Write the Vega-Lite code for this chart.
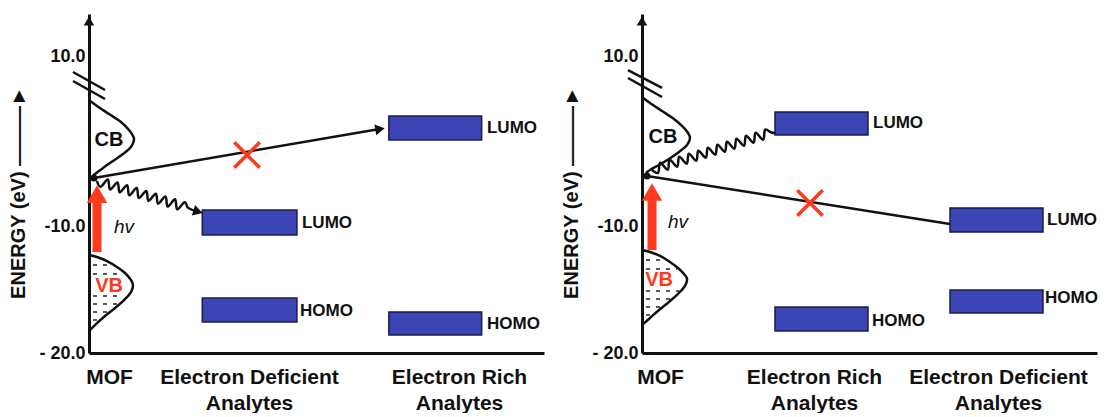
{
  "$schema": "https://vega.github.io/schema/vega-lite/v6.json",
  "padding": {"left": 8, "top": 14, "right": 0, "bottom": 0},
  "background": "white",
  "spacing": 17,
  "config": {
    "view": {"stroke": null},
    "font": "Liberation Sans",
    "axis": {"labelFont": "Liberation Sans", "labelFontWeight": "bold", "labelColor": "#111", "domainColor": "#111", "domainWidth": 3, "ticks": false, "tickSize": 0, "grid": false, "labelOverlap": false, "labelFlush": false, "titleFont": "Liberation Sans", "titleFontWeight": "bold", "titleColor": "#111"},
    "axisX": {"labelFontSize": 21, "labelPadding": 13, "labelLineHeight": 26, "labelAngle": 0},
    "axisY": {"labelFontSize": 18, "labelPadding": 4, "titleFontSize": 20, "titlePadding": 10, "titleY": 178}
  },
  "datasets": {
    "boxesL": [
      {"level": "LUMO", "analyte": "Electron Deficient", "x": 24.9, "x2": 45.7, "E": -8.12, "E2": -10.71},
      {"level": "LUMO", "analyte": "Electron Rich", "x": 65.9, "x2": 86.3, "E": 2.94, "E2": 0.12},
      {"level": "HOMO", "analyte": "Electron Deficient", "x": 24.9, "x2": 45.7, "E": -15.67, "E2": -17.56},
      {"level": "HOMO", "analyte": "Electron Rich", "x": 65.9, "x2": 86.3, "E": -16.77, "E2": -18.58}
    ],
    "boxesR": [
      {"level": "LUMO", "analyte": "Electron Rich", "x": 29.23, "x2": 49.67, "E": 3.41, "E2": 0.71},
      {"level": "LUMO", "analyte": "Electron Deficient", "x": 67.69, "x2": 88.13, "E": -7.88, "E2": -10.47},
      {"level": "HOMO", "analyte": "Electron Rich", "x": 29.23, "x2": 49.67, "E": -16.38, "E2": -18.27},
      {"level": "HOMO", "analyte": "Electron Deficient", "x": 67.69, "x2": 88.13, "E": -15.04, "E2": -16.85}
    ],
    "textsL": [
      {"id": "level", "t": "LUMO", "x": 46.81, "E": -9.65},
      {"id": "level", "t": "LUMO", "x": 87.47, "E": 1.53},
      {"id": "level", "t": "HOMO", "x": 46.37, "E": -16.69},
      {"id": "level", "t": "HOMO", "x": 87.47, "E": -17.72},
      {"id": "CB", "t": "CB", "x": 4.4, "E": 0.12},
      {"id": "VB", "t": "VB", "x": 4.4, "E": -14.72},
      {"id": "hv", "t": "hv", "x": 7.69, "E": -10.08}
    ],
    "textsR": [
      {"id": "level", "t": "LUMO", "x": 50.77, "E": 2.12},
      {"id": "level", "t": "LUMO", "x": 89.01, "E": -9.29},
      {"id": "level", "t": "HOMO", "x": 50.55, "E": -17.48},
      {"id": "level", "t": "HOMO", "x": 88.57, "E": -15.67},
      {"id": "CB", "t": "CB", "x": 4.62, "E": 0.47},
      {"id": "VB", "t": "VB", "x": 3.74, "E": -14.25},
      {"id": "hv", "t": "hv", "x": 7.91, "E": -9.53}
    ],
    "pathsL": [
      {"id": "CB", "o": 1, "x": 0, "E": 4.82}, {"id": "CB", "o": 2, "x": 1.76, "E": 4.12}, {"id": "CB", "o": 3, "x": 4.4, "E": 3.18}, {"id": "CB", "o": 4, "x": 7.03, "E": 2.24}, {"id": "CB", "o": 5, "x": 8.79, "E": 1.29}, {"id": "CB", "o": 6, "x": 9.67, "E": 0.59}, {"id": "CB", "o": 7, "x": 9.89, "E": 0.12}, {"id": "CB", "o": 8, "x": 9.23, "E": -0.71}, {"id": "CB", "o": 9, "x": 7.47, "E": -1.53}, {"id": "CB", "o": 10, "x": 5.27, "E": -2.35}, {"id": "CB", "o": 11, "x": 3.08, "E": -3.18}, {"id": "CB", "o": 12, "x": 1.32, "E": -3.88}, {"id": "CB", "o": 13, "x": 0.66, "E": -4.24},
      {"id": "VB", "o": 1, "x": 0, "E": -12.28}, {"id": "VB", "o": 2, "x": 1.76, "E": -12.44}, {"id": "VB", "o": 3, "x": 3.96, "E": -12.76}, {"id": "VB", "o": 4, "x": 6.15, "E": -13.23}, {"id": "VB", "o": 5, "x": 7.91, "E": -13.7}, {"id": "VB", "o": 6, "x": 9.23, "E": -14.25}, {"id": "VB", "o": 7, "x": 9.67, "E": -14.65}, {"id": "VB", "o": 8, "x": 9.23, "E": -15.2}, {"id": "VB", "o": 9, "x": 7.69, "E": -15.83}, {"id": "VB", "o": 10, "x": 5.71, "E": -16.46}, {"id": "VB", "o": 11, "x": 3.52, "E": -17.09}, {"id": "VB", "o": 12, "x": 1.54, "E": -17.72}, {"id": "VB", "o": 13, "x": 0, "E": -18.27},
      {"id": "wave", "o": 1, "x": 1.76, "E": -4.71}, {"id": "wave", "o": 2, "x": 2.53, "E": -5.39}, {"id": "wave", "o": 3, "x": 4.15, "E": -4.53}, {"id": "wave", "o": 4, "x": 4.64, "E": -5.72}, {"id": "wave", "o": 5, "x": 6.26, "E": -4.87}, {"id": "wave", "o": 6, "x": 6.75, "E": -6.05}, {"id": "wave", "o": 7, "x": 8.36, "E": -5.2}, {"id": "wave", "o": 8, "x": 8.86, "E": -6.39}, {"id": "wave", "o": 9, "x": 10.47, "E": -5.53}, {"id": "wave", "o": 10, "x": 10.97, "E": -6.72}, {"id": "wave", "o": 11, "x": 12.58, "E": -5.87}, {"id": "wave", "o": 12, "x": 13.07, "E": -7.05}, {"id": "wave", "o": 13, "x": 14.69, "E": -6.2}, {"id": "wave", "o": 14, "x": 15.18, "E": -7.38}, {"id": "wave", "o": 15, "x": 16.8, "E": -6.53}, {"id": "wave", "o": 16, "x": 17.29, "E": -7.72}, {"id": "wave", "o": 17, "x": 18.9, "E": -6.86}, {"id": "wave", "o": 18, "x": 19.4, "E": -8.05}, {"id": "wave", "o": 19, "x": 21.01, "E": -7.2}, {"id": "wave", "o": 20, "x": 21.79, "E": -7.87}, {"id": "wave", "o": 21, "x": 23.3, "E": -8.22},
      {"id": "transfer", "o": 1, "x": 1.1, "E": -4.35}, {"id": "transfer", "o": 2, "x": 64.2, "E": 1.43}
    ],
    "pathsR": [
      {"id": "CB", "o": 1, "x": 0, "E": 5.18}, {"id": "CB", "o": 2, "x": 1.76, "E": 4.47}, {"id": "CB", "o": 3, "x": 4.4, "E": 3.53}, {"id": "CB", "o": 4, "x": 7.03, "E": 2.59}, {"id": "CB", "o": 5, "x": 9.01, "E": 1.65}, {"id": "CB", "o": 6, "x": 10.11, "E": 0.94}, {"id": "CB", "o": 7, "x": 10.55, "E": 0.35}, {"id": "CB", "o": 8, "x": 9.89, "E": -0.47}, {"id": "CB", "o": 9, "x": 8.13, "E": -1.29}, {"id": "CB", "o": 10, "x": 5.93, "E": -2.12}, {"id": "CB", "o": 11, "x": 3.74, "E": -2.82}, {"id": "CB", "o": 12, "x": 1.76, "E": -3.41}, {"id": "CB", "o": 13, "x": 0.88, "E": -3.76},
      {"id": "VB", "o": 1, "x": 0, "E": -11.89}, {"id": "VB", "o": 2, "x": 1.76, "E": -12.05}, {"id": "VB", "o": 3, "x": 3.96, "E": -12.36}, {"id": "VB", "o": 4, "x": 6.15, "E": -12.83}, {"id": "VB", "o": 5, "x": 7.91, "E": -13.31}, {"id": "VB", "o": 6, "x": 9.23, "E": -13.78}, {"id": "VB", "o": 7, "x": 9.89, "E": -14.17}, {"id": "VB", "o": 8, "x": 9.45, "E": -14.72}, {"id": "VB", "o": 9, "x": 7.91, "E": -15.35}, {"id": "VB", "o": 10, "x": 5.93, "E": -15.98}, {"id": "VB", "o": 11, "x": 3.74, "E": -16.61}, {"id": "VB", "o": 12, "x": 1.76, "E": -17.24}, {"id": "VB", "o": 13, "x": 0, "E": -17.8},
      {"id": "wave", "o": 1, "x": 2.2, "E": -3.41}, {"id": "wave", "o": 2, "x": 3.55, "E": -3.73}, {"id": "wave", "o": 3, "x": 4.0, "E": -2.56}, {"id": "wave", "o": 4, "x": 5.65, "E": -3.38}, {"id": "wave", "o": 5, "x": 6.09, "E": -2.2}, {"id": "wave", "o": 6, "x": 7.74, "E": -3.03}, {"id": "wave", "o": 7, "x": 8.19, "E": -1.85}, {"id": "wave", "o": 8, "x": 9.84, "E": -2.67}, {"id": "wave", "o": 9, "x": 10.29, "E": -1.5}, {"id": "wave", "o": 10, "x": 11.94, "E": -2.32}, {"id": "wave", "o": 11, "x": 12.39, "E": -1.15}, {"id": "wave", "o": 12, "x": 14.03, "E": -1.97}, {"id": "wave", "o": 13, "x": 14.48, "E": -0.79}, {"id": "wave", "o": 14, "x": 16.13, "E": -1.62}, {"id": "wave", "o": 15, "x": 16.58, "E": -0.44}, {"id": "wave", "o": 16, "x": 18.23, "E": -1.26}, {"id": "wave", "o": 17, "x": 18.68, "E": -0.09}, {"id": "wave", "o": 18, "x": 20.32, "E": -0.91}, {"id": "wave", "o": 19, "x": 20.77, "E": 0.27}, {"id": "wave", "o": 20, "x": 22.42, "E": -0.56}, {"id": "wave", "o": 21, "x": 22.87, "E": 0.62}, {"id": "wave", "o": 22, "x": 24.52, "E": -0.2}, {"id": "wave", "o": 23, "x": 24.97, "E": 0.97}, {"id": "wave", "o": 24, "x": 26.62, "E": 0.15}, {"id": "wave", "o": 25, "x": 27.06, "E": 1.33}, {"id": "wave", "o": 26, "x": 28.41, "E": 1.0}, {"id": "wave", "o": 27, "x": 29.23, "E": 0.94},
      {"id": "transfer", "o": 1, "x": 1.1, "E": -4.12}, {"id": "transfer", "o": 2, "x": 67.69, "E": -9.76}
    ],
    "breakL": [
      {"x": -3.52, "x2": 3.52, "E": 8.12, "E2": 6.0},
      {"x": -3.52, "x2": 3.52, "E": 7.06, "E2": 4.94}
    ],
    "breakR": [
      {"x": -3.08, "x2": 4.4, "E": 8.35, "E2": 6.24},
      {"x": -3.08, "x2": 4.4, "E": 7.41, "E2": 5.18}
    ],
    "dashL": [
      {"x": 0.88, "x2": 5.71, "E": -13.07}, {"x": 0.88, "x2": 7.47, "E": -13.78}, {"x": 0.88, "x2": 7.47, "E": -15.51}, {"x": 0.88, "x2": 6.15, "E": -16.14}, {"x": 0.88, "x2": 4.4, "E": -16.77}, {"x": 0.88, "x2": 2.64, "E": -17.4}
    ],
    "dashR": [
      {"x": 0.88, "x2": 5.05, "E": -12.68}, {"x": 0.88, "x2": 7.69, "E": -13.39}, {"x": 0.88, "x2": 8.13, "E": -15.12}, {"x": 0.88, "x2": 6.37, "E": -15.75}, {"x": 0.88, "x2": 4.4, "E": -16.38}, {"x": 0.88, "x2": 2.42, "E": -17.01}
    ],
    "shaftL": [{"x": 1.76, "E": -12.05, "E2": -7.0}],
    "shaftR": [{"x": 2.2, "E": -11.89, "E2": -6.6}],
    "tipsL": [
      {"id": "transfer", "x": 63.96, "E": 1.41},
      {"id": "wave", "x": 23.96, "E": -8.31},
      {"id": "hv", "x": 1.76, "E": -6.24},
      {"id": "axis", "x": 0, "E": 13.33},
      {"id": "electron", "x": 1.1, "E": -4.35},
      {"id": "blocked", "x": 34.73, "E": -1.65}
    ],
    "tipsR": [
      {"id": "hv", "x": 2.2, "E": -6.0},
      {"id": "axis", "x": 0, "E": 13.33},
      {"id": "electron", "x": 1.1, "E": -4.12},
      {"id": "blocked", "x": 36.92, "E": -7.29}
    ]
  },
  "hconcat": [
    {
      "width": 455,
      "height": 339,
      "encoding": {
        "x": {"field": "x", "type": "quantitative", "scale": {"domain": [0, 100], "nice": false, "zero": false},
          "axis": {"title": null, "values": [4.4, 35.16, 81.32], "labelExpr": "datum.value < 10 ? 'MOF' : datum.value < 60 ? ['Electron Deficient', 'Analytes'] : ['Electron  Rich', 'Analytes']"}},
        "y": {"field": "E", "type": "quantitative", "scale": {"domain": [-20, -10, 10, 14], "range": [339, 212, 42, 0], "nice": false, "zero": false},
          "axis": {"title": "ENERGY (eV)  ———►", "values": [-20, -10, 10], "labelExpr": "datum.value == -20 ? '- 20.0' : datum.value == -10 ? '-10.0' : '10.0'"}}
      },
      "layer": [
        {"data": {"name": "boxesL"}, "mark": {"type": "rect", "fill": "#3b45b3", "stroke": "#1c1c4a", "strokeWidth": 1.5}, "encoding": {"x2": {"field": "x2"}, "y2": {"field": "E2"}}},
        {"data": {"name": "dashL"}, "mark": {"type": "rule", "color": "#222", "strokeWidth": 1.5, "strokeDash": [4, 6]}, "encoding": {"x2": {"field": "x2"}}},
        {"data": {"name": "pathsL"}, "mark": {"type": "line", "color": "#111", "strokeWidth": 2.5, "interpolate": "cardinal"}, "encoding": {"detail": {"field": "id"}, "order": {"field": "o"}}},
        {"data": {"name": "breakL"}, "mark": {"type": "rule", "color": "#111", "strokeWidth": 2.5}, "encoding": {"x2": {"field": "x2"}, "y2": {"field": "E2"}}},
        {"data": {"name": "shaftL"}, "mark": {"type": "rule", "color": "#ff3b1f", "strokeWidth": 9}, "encoding": {"y2": {"field": "E2"}}},
        {"data": {"name": "tipsL"}, "transform": [{"filter": "datum.id == 'hv'"}], "mark": {"type": "point", "shape": "triangle-up", "filled": true, "opacity": 1, "color": "#ff3b1f", "size": 420}},
        {"data": {"name": "tipsL"}, "transform": [{"filter": "datum.id == 'axis'"}], "mark": {"type": "point", "shape": "triangle-up", "filled": true, "opacity": 1, "color": "#111", "size": 110}},
        {"data": {"name": "tipsL"}, "transform": [{"filter": "datum.id == 'transfer'"}], "mark": {"type": "point", "shape": "triangle-right", "filled": true, "opacity": 1, "color": "#111", "size": 120, "angle": -9.7}},
        {"data": {"name": "tipsL"}, "transform": [{"filter": "datum.id == 'wave'"}], "mark": {"type": "point", "shape": "triangle-right", "filled": true, "opacity": 1, "color": "#111", "size": 120, "angle": 17}},
        {"data": {"name": "tipsL"}, "transform": [{"filter": "datum.id == 'electron'"}], "mark": {"type": "point", "shape": "circle", "filled": true, "opacity": 1, "color": "#111", "size": 50}},
        {"data": {"name": "tipsL"}, "transform": [{"filter": "datum.id == 'blocked'"}], "mark": {"type": "point", "shape": "M-1,-1L1,1M-1,1L1,-1", "filled": false, "opacity": 1, "color": "#ff3b1f", "strokeWidth": 3.5, "size": 650}},
        {"data": {"name": "textsL"}, "transform": [{"filter": "datum.id == 'level'"}], "mark": {"type": "text", "align": "left", "baseline": "middle", "font": "Liberation Sans", "fontWeight": "bold", "fontSize": 17, "color": "#111"}, "encoding": {"text": {"field": "t"}}},
        {"data": {"name": "textsL"}, "transform": [{"filter": "datum.id == 'CB'"}], "mark": {"type": "text", "align": "center", "baseline": "middle", "font": "Liberation Sans", "fontWeight": "bold", "fontSize": 20, "color": "#111"}, "encoding": {"text": {"field": "t"}}},
        {"data": {"name": "textsL"}, "transform": [{"filter": "datum.id == 'VB'"}], "mark": {"type": "text", "align": "center", "baseline": "middle", "font": "Liberation Sans", "fontWeight": "bold", "fontSize": 20, "color": "#ff3b1f"}, "encoding": {"text": {"field": "t"}}},
        {"data": {"name": "textsL"}, "transform": [{"filter": "datum.id == 'hv'"}], "mark": {"type": "text", "align": "center", "baseline": "middle", "font": "Liberation Sans", "fontStyle": "italic", "fontSize": 19, "color": "#111"}, "encoding": {"text": {"field": "t"}}}
      ]
    },
    {
      "width": 455,
      "height": 339,
      "encoding": {
        "x": {"field": "x", "type": "quantitative", "scale": {"domain": [0, 100], "nice": false, "zero": false},
          "axis": {"title": null, "values": [3.96, 37.8, 78.24], "labelExpr": "datum.value < 10 ? 'MOF' : datum.value < 60 ? ['Electron Rich', 'Analytes'] : ['Electron Deficient', 'Analytes']"}},
        "y": {"field": "E", "type": "quantitative", "scale": {"domain": [-20, -10, 10, 14], "range": [339, 212, 42, 0], "nice": false, "zero": false},
          "axis": {"title": "ENERGY (eV)  ———►", "values": [-20, -10, 10], "labelExpr": "datum.value == -20 ? '- 20.0' : datum.value == -10 ? '-10.0' : '10.0'"}}
      },
      "layer": [
        {"data": {"name": "boxesR"}, "mark": {"type": "rect", "fill": "#3b45b3", "stroke": "#1c1c4a", "strokeWidth": 1.5}, "encoding": {"x2": {"field": "x2"}, "y2": {"field": "E2"}}},
        {"data": {"name": "dashR"}, "mark": {"type": "rule", "color": "#222", "strokeWidth": 1.5, "strokeDash": [4, 6]}, "encoding": {"x2": {"field": "x2"}}},
        {"data": {"name": "pathsR"}, "mark": {"type": "line", "color": "#111", "strokeWidth": 2.5, "interpolate": "cardinal"}, "encoding": {"detail": {"field": "id"}, "order": {"field": "o"}}},
        {"data": {"name": "breakR"}, "mark": {"type": "rule", "color": "#111", "strokeWidth": 2.5}, "encoding": {"x2": {"field": "x2"}, "y2": {"field": "E2"}}},
        {"data": {"name": "shaftR"}, "mark": {"type": "rule", "color": "#ff3b1f", "strokeWidth": 9}, "encoding": {"y2": {"field": "E2"}}},
        {"data": {"name": "tipsR"}, "transform": [{"filter": "datum.id == 'hv'"}], "mark": {"type": "point", "shape": "triangle-up", "filled": true, "opacity": 1, "color": "#ff3b1f", "size": 420}},
        {"data": {"name": "tipsR"}, "transform": [{"filter": "datum.id == 'axis'"}], "mark": {"type": "point", "shape": "triangle-up", "filled": true, "opacity": 1, "color": "#111", "size": 110}},
        {"data": {"name": "tipsR"}, "transform": [{"filter": "datum.id == 'electron'"}], "mark": {"type": "point", "shape": "circle", "filled": true, "opacity": 1, "color": "#111", "size": 50}},
        {"data": {"name": "tipsR"}, "transform": [{"filter": "datum.id == 'blocked'"}], "mark": {"type": "point", "shape": "M-1,-1L1,1M-1,1L1,-1", "filled": false, "opacity": 1, "color": "#ff3b1f", "strokeWidth": 3.5, "size": 650}},
        {"data": {"name": "textsR"}, "transform": [{"filter": "datum.id == 'level'"}], "mark": {"type": "text", "align": "left", "baseline": "middle", "font": "Liberation Sans", "fontWeight": "bold", "fontSize": 17, "color": "#111"}, "encoding": {"text": {"field": "t"}}},
        {"data": {"name": "textsR"}, "transform": [{"filter": "datum.id == 'CB'"}], "mark": {"type": "text", "align": "center", "baseline": "middle", "font": "Liberation Sans", "fontWeight": "bold", "fontSize": 20, "color": "#111"}, "encoding": {"text": {"field": "t"}}},
        {"data": {"name": "textsR"}, "transform": [{"filter": "datum.id == 'VB'"}], "mark": {"type": "text", "align": "center", "baseline": "middle", "font": "Liberation Sans", "fontWeight": "bold", "fontSize": 20, "color": "#ff3b1f"}, "encoding": {"text": {"field": "t"}}},
        {"data": {"name": "textsR"}, "transform": [{"filter": "datum.id == 'hv'"}], "mark": {"type": "text", "align": "center", "baseline": "middle", "font": "Liberation Sans", "fontStyle": "italic", "fontSize": 19, "color": "#111"}, "encoding": {"text": {"field": "t"}}}
      ]
    }
  ]
}
